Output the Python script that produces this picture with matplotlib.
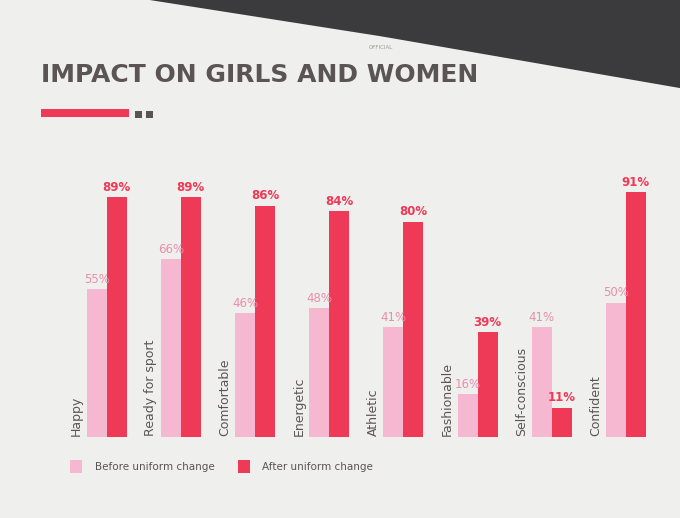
import numpy as np
import matplotlib
matplotlib.use('Agg')
import matplotlib.pyplot as plt
from matplotlib.patches import Polygon, Rectangle

# data
categories = ['Happy', 'Ready for sport', 'Comfortable', 'Energetic',
              'Athletic', 'Fashionable', 'Self-conscious', 'Confident']
before = [55, 66, 46, 48, 41, 16, 41, 50]
after = [89, 89, 86, 84, 80, 39, 11, 91]

PINK = '#f5b8d0'
RED = '#ee3a56'
GREY = '#5b5455'
BG = '#efefed'

fig = plt.figure(figsize=(6.8, 5.18), dpi=100)
fig.patch.set_facecolor(BG)

# monitor bezel seen at top of the photo
fig.patches.append(Polygon([[0.22, 1.0], [1.0, 1.0], [1.0, 0.83], [0.56, 0.93]],
                           closed=True, transform=fig.transFigure,
                           facecolor='#3b3a3d', edgecolor='none', zorder=0))
fig.text(0.56, 0.905, 'OFFICIAL', fontsize=4, color='#999999', ha='center')

# title + accent bar
fig.text(0.06, 0.855, 'IMPACT ON GIRLS AND WOMEN', fontsize=18, weight='bold',
         color=GREY, family='DejaVu Sans', ha='left', va='center')
fig.patches.append(Rectangle((0.06, 0.775), 0.13, 0.014, transform=fig.transFigure,
                             facecolor=RED, edgecolor='none'))
for dx in (0.198, 0.214):
    fig.patches.append(Rectangle((dx, 0.772), 0.011, 0.014, transform=fig.transFigure,
                                 facecolor=GREY, edgecolor='none'))

ax = fig.add_axes([0.075, 0.156, 0.9, 0.52])
ax.set_facecolor(BG)
x = np.arange(len(categories))
w = 0.27
ax.bar(x - w / 2, before, w, color=PINK, edgecolor='none')
ax.bar(x + w / 2, after, w, color=RED, edgecolor='none')

for i, cat in enumerate(categories):
    ax.text(i - w / 2, before[i] + 1.2, f'{before[i]}%', ha='center', va='bottom',
            fontsize=8.5, color='#e88fae')
    ax.text(i + w / 2, after[i] + 1.2, f'{after[i]}%', ha='center', va='bottom',
            fontsize=8.5, color=RED, weight='bold')
    ax.text(i - w - 0.14, 0.5, cat, rotation=90, ha='center', va='bottom',
            fontsize=9, color=GREY)

ax.set_xlim(-0.75, len(categories) - 0.5)
ax.set_ylim(0, 100)
ax.set_xticks([])
ax.set_yticks([])
for s in ax.spines.values():
    s.set_visible(False)

# legend
fig.patches.append(Rectangle((0.103, 0.087), 0.018, 0.025, transform=fig.transFigure,
                             facecolor=PINK, edgecolor='none'))
fig.text(0.14, 0.099, 'Before uniform change', fontsize=7.5, color=GREY, va='center')
fig.patches.append(Rectangle((0.35, 0.087), 0.018, 0.025, transform=fig.transFigure,
                             facecolor=RED, edgecolor='none'))
fig.text(0.385, 0.099, 'After uniform change', fontsize=7.5, color=GREY, va='center')

plt.savefig('out.png', dpi=100, facecolor=BG)
